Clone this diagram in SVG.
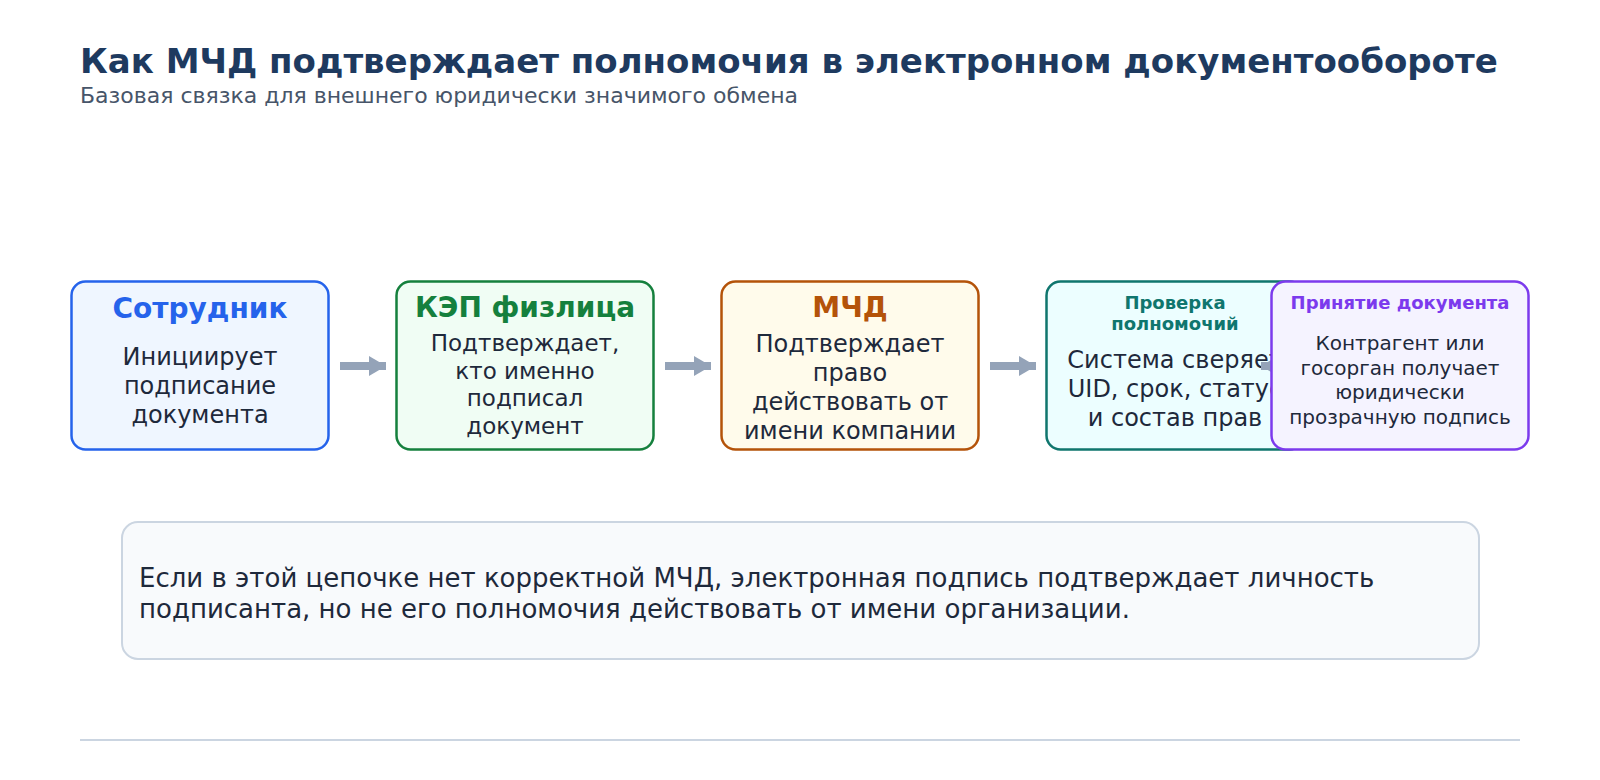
<svg xmlns="http://www.w3.org/2000/svg" width="1600" height="780" viewBox="0 0 1600 780">
<style>
text{font-family:"DejaVu Sans","Noto Sans",sans-serif}
.title{font-size:34px;font-weight:bold;fill:#1e3a5f}
.sub{font-size:22px;fill:#475569}
.box{stroke-width:2.5}
.nt{font-size:28px;font-weight:bold;text-anchor:middle}
.st{font-size:18px;font-weight:bold;text-anchor:middle}
.body{font-size:24px;fill:#1e293b;text-anchor:middle}
.small{font-size:20px;fill:#1e293b;text-anchor:middle}
.conn{stroke:#94a3b8;stroke-width:8;fill:none}
.note{fill:#f8fafc;stroke:#cbd5e1;stroke-width:2}
.notet{font-size:26px;fill:#1e293b}
</style>
<defs>
<marker id="ah" markerUnits="userSpaceOnUse" markerWidth="17" markerHeight="20" refX="17" refY="10" orient="auto">
<path d="M0,0 L17,10 L0,20 Z" fill="#94a3b8"/>
</marker>
</defs>
<rect width="1600" height="780" fill="#ffffff"/>
<g id="header">
<text class="title" x="80" y="73">Как МЧД подтверждает полномочия в электронном документообороте</text>
<text class="sub" x="80" y="103">Базовая связка для внешнего юридически значимого обмена</text>
</g>
<g id="node-employee">
<rect class="box" x="71.5" y="281.5" width="257" height="168" rx="14" fill="#eff6ff" stroke="#2563eb"/>
<text class="nt" x="200" y="318" fill="#2563eb">Сотрудник</text>
<text class="body" x="200" y="364.5">Инициирует</text>
<text class="body" x="200" y="393.5">подписание</text>
<text class="body" x="200" y="422.5">документа</text>
</g>
<g id="node-kep">
<rect class="box" x="396.5" y="281.5" width="257" height="168" rx="14" fill="#f0fdf4" stroke="#15803d"/>
<text class="nt" x="525" y="317" fill="#15803d">КЭП физлица</text>
<text class="body" x="525" y="351" style="font-size:23px">Подтверждает,</text>
<text class="body" x="525" y="378.6" style="font-size:23px">кто именно</text>
<text class="body" x="525" y="406.2" style="font-size:23px">подписал</text>
<text class="body" x="525" y="433.8" style="font-size:23px">документ</text>
</g>
<g id="node-mchd">
<rect class="box" x="721.5" y="281.5" width="257" height="168" rx="14" fill="#fffbeb" stroke="#b45309"/>
<text class="nt" x="850" y="317" fill="#b45309">МЧД</text>
<text class="body" x="850" y="352">Подтверждает</text>
<text class="body" x="850" y="381">право</text>
<text class="body" x="850" y="410">действовать от</text>
<text class="body" x="850" y="439">имени компании</text>
</g>
<g id="node-check">
<rect class="box" x="1046.5" y="281.5" width="257" height="168" rx="14" fill="#ecfeff" stroke="#0f766e"/>
<text class="st" x="1175" y="309" fill="#0f766e">Проверка</text>
<text class="st" x="1175" y="330" fill="#0f766e">полномочий</text>
<text class="body" x="1175" y="368">Система сверяет</text>
<text class="body" x="1175" y="397">UID, срок, статус</text>
<text class="body" x="1175" y="426">и состав прав</text>
</g>
<g id="connectors">
<line class="conn" x1="340" y1="366" x2="386" y2="366" marker-end="url(#ah)"/>
<line class="conn" x1="665" y1="366" x2="711" y2="366" marker-end="url(#ah)"/>
<line class="conn" x1="990" y1="366" x2="1036" y2="366" marker-end="url(#ah)"/>
<line class="conn" x1="1314" y1="366" x2="1261" y2="366" marker-end="url(#ah)"/>
</g>
<g id="node-accept">
<rect class="box" x="1271.5" y="281.5" width="257" height="168" rx="14" fill="#f5f3ff" stroke="#7c3aed"/>
<text class="st" x="1400" y="309" fill="#7c3aed">Принятие документа</text>
<text class="small" x="1400" y="350">Контрагент или</text>
<text class="small" x="1400" y="374.5">госорган получает</text>
<text class="small" x="1400" y="399">юридически</text>
<text class="small" x="1400" y="423.5">прозрачную подпись</text>
</g>
<g id="note">
<rect class="note" x="122" y="522" width="1357" height="137" rx="16"/>
<text class="notet" x="139" y="587">Если в этой цепочке нет корректной МЧД, электронная подпись подтверждает личность</text>
<text class="notet" x="139" y="618">подписанта, но не его полномочия действовать от имени организации.</text>
</g>
<line x1="80" y1="740" x2="1520" y2="740" stroke="#cbd5e1" stroke-width="2"/>
</svg>
